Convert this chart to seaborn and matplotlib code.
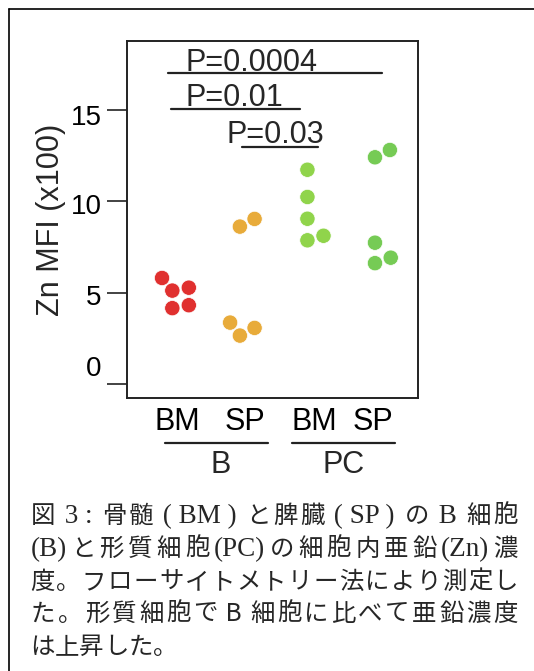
import matplotlib
matplotlib.use("Agg")
import matplotlib.pyplot as plt
import matplotlib.transforms as mtransforms
from matplotlib.font_manager import FontProperties, findfont, get_font
import numpy as np
import pandas as pd
import seaborn as sns

# data (Zn MFI x100)
b_bm = [5.81, 5.12, 5.28, 4.16, 4.32]
b_sp = [8.62, 9.04, 3.37, 2.66, 3.08]
pc_bm = [11.73, 10.24, 9.05, 7.87, 8.12]
pc_sp = [12.41, 12.81, 7.74, 6.92, 6.62]

groups = ["B_BM", "B_SP", "PC_BM", "PC_SP"]
tick_labels = ["BM", "SP", "BM", "SP"]
colors = ["#E0302F", "#E8AB3A", "#90D44B", "#76CB55"]

y_ticks = [0, 5, 10, 15]
y_tick_shift = [-18, 2, 3, 5]  # px, reference labels sit off their ticks
x_tick_shift = [5, 5, 7, -2]   # px

# p-value brackets: label, x start, x end, y of line, text x, text y
p_labels = ["P=0.0004", "P=0.01", "P=0.03"]
p_x0 = [-0.06, -0.02, 1.03]
p_x1 = [3.10, 1.89, 2.15]
p_y = [17.0, 15.05, 12.96]
p_tx = [0.19, 0.19, 0.80]
p_ty = [17.15, 15.22, 13.2]

cell_groups = ["B", "PC"]
cell_x0 = [-0.11, 1.77]
cell_x1 = [1.42, 3.30]
cell_tx = [0.71, 2.53]

caption = [
    [("図", "cjk"), (" 3 : ", "serif"), ("骨髄", "cjk"), (" ( BM ) ", "serif"),
     ("と脾臓", "cjk"), (" ( SP ) ", "serif"), ("の", "cjk"), (" B ", "serif"), ("細胞", "cjk")],
    [("(B)", "serif"), ("と形質細胞", "cjk"), ("(PC)", "serif"), ("の細胞内亜鉛", "cjk"),
     ("(Zn)", "serif"), ("濃", "cjk")],
    [("度。フローサイトメトリー法により測定し", "cjk")],
    [("た。形質細胞で", "cjk"), (" B ", "latin"), ("細胞に比べて亜鉛濃度", "cjk")],
    [("は上昇した。", "cjk")],
]
caption_justify = [True, True, True, True, False]

df = pd.DataFrame({
    "group": [g for g, v in zip(groups, [b_bm, b_sp, pc_bm, pc_sp]) for _ in v],
    "value": b_bm + b_sp + pc_bm + pc_sp,
})

sns.set_style("ticks")
plt.rcParams["font.family"] = ["Liberation Sans", "DejaVu Sans"]

W, H = 534, 671
fig = plt.figure(figsize=(W / 100, H / 100), dpi=100)
ax = fig.add_axes([127 / W, 1 - 398.3 / H, 291 / W, 357.3 / H])

sns.swarmplot(data=df, x="group", y="value", hue="group", order=groups,
              hue_order=groups, palette=colors, size=11, linewidth=0.5,
              edgecolor="white", legend=False, ax=ax)

ax.set_xlim(-0.671, 3.637)
ax.set_ylim(-0.77, 18.77)
ax.set_xticks(range(4))
ax.set_xticklabels(tick_labels)
ax.set_yticks(y_ticks)
ax.set_yticklabels([str(t) for t in y_ticks])
ax.set_xlabel("")
ax.set_ylabel("Zn MFI (x100)", fontsize=22)
ax.yaxis.set_label_coords(-0.21, 0.5)

ax.tick_params(axis="x", length=0, pad=6, labelsize=22, colors="black")
ax.tick_params(axis="y", length=14.4, width=1.2, pad=4, labelsize=20,
               color="#222222", labelcolor="black")
for sp in ax.spines.values():
    sp.set_visible(True)
    sp.set_linewidth(1.4)
    sp.set_color("#222222")

for lab, dy in zip(ax.get_yticklabels(), y_tick_shift):
    lab.set_transform(lab.get_transform() +
                      mtransforms.ScaledTranslation(0, -dy / 100, fig.dpi_scale_trans))
for lab, dx in zip(ax.get_xticklabels(), x_tick_shift):
    lab.set_transform(lab.get_transform() +
                      mtransforms.ScaledTranslation(dx / 100, 0, fig.dpi_scale_trans))

# p-value brackets
for s, x0, x1, y, tx, ty in zip(p_labels, p_x0, p_x1, p_y, p_tx, p_ty):
    ax.plot([x0, x1], [y, y], color="#222222", lw=1.6, clip_on=False)
    ax.text(tx, ty, s, ha="left", va="baseline", fontsize=22)

# cell type grouping under the axis
xt = ax.get_xaxis_transform()
for s, x0, x1, tx in zip(cell_groups, cell_x0, cell_x1, cell_tx):
    ax.plot([x0, x1], [-0.126, -0.126], color="#222222", lw=1.6,
            transform=xt, clip_on=False)
    ax.text(tx, -0.21, s, ha="center", va="baseline", fontsize=22, transform=xt)

# the reference swarm spreads to the right: run seaborn's swarm once, then mirror it
fig.canvas.draw()
for coll in ax.collections:
    off = np.asarray(coll.get_offsets()).copy()
    if len(off) == 0:
        continue
    centre = np.round(np.median(off[:, 0]))
    off[:, 0] = 2 * centre - off[:, 0]
    coll.set_offsets(off)
    if "draw" in coll.__dict__:
        del coll.draw

# outer frame
fig.add_artist(plt.Line2D([8.7 / W, 1], [1 - 9.3 / H, 1 - 9.3 / H], color="black", lw=1.2))
fig.add_artist(plt.Line2D([8.7 / W, 8.7 / W], [0, 1 - 9.3 / H], color="black", lw=1.2))

# caption, justified line by line
fam = {"cjk": "Noto Sans CJK JP", "latin": "Noto Sans CJK JP", "serif": "Liberation Serif"}
size = {"cjk": 17.6, "latin": 17.6, "serif": 19.5}


def advance(s, kind):
    font = get_font(findfont(FontProperties(family=fam[kind], size=size[kind])))
    font.set_size(size[kind], 100)
    return sum(font.load_char(ord(c)).linearHoriAdvance / 65536 for c in s)


left, right = 30.5, 518
baselines = [523, 556, 589, 621, 654]
for segs, base, just in zip(caption, baselines, caption_justify):
    items = []
    for s, kind in segs:
        if kind == "cjk":
            items += [(c, kind) for c in s]
        else:
            items.append((s, kind))
    adv = [advance(s, k) for s, k in items]
    extra = (right - left - sum(adv)) / (len(items) - 1) if just else 0
    x = left
    for (s, k), a in zip(items, adv):
        fig.text(x / W, 1 - base / H, s, family=[fam[k], "DejaVu Sans"],
                 fontsize=size[k], ha="left", va="baseline")
        x += a + extra

fig.savefig("out.png", dpi=100)
